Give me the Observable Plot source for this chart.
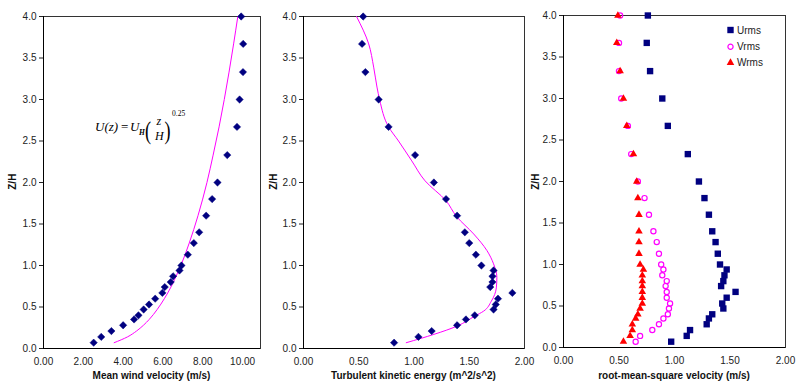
<!DOCTYPE html>
<html><head><meta charset="utf-8">
<script src="https://cdn.jsdelivr.net/npm/d3@7"></script>
<script src="https://cdn.jsdelivr.net/npm/@observablehq/plot@0.6"></script>
<style>
body{margin:0;background:#fff;}
#wrap{position:relative;width:800px;height:392px;overflow:hidden;font-family:"Liberation Sans",Arial,sans-serif;}
#wrap > svg{position:absolute;top:0;}
</style></head><body><div id="wrap"></div>
<script>
// z/H levels of the measurements
const zLevels = [0.07,0.14,0.21,0.28,0.35,0.40,0.47,0.53,0.60,0.67,0.74,0.80,0.87,0.94,1.00,1.13,1.27,1.40,1.60,1.80,2.00,2.33,2.67,3.00,3.33,3.67,4.00];
// Panel 1: mean wind velocity (m/s)
const meanWind = [2.52,2.90,3.41,4.00,4.55,4.77,5.03,5.30,5.61,5.97,6.09,6.39,6.51,6.83,6.93,7.25,7.55,7.82,8.17,8.47,8.74,9.23,9.72,9.85,10.02,10.03,9.93];
// Power-law curve
const lawZ = [0.07,0.14,0.21,0.28,0.35,0.47,0.60,0.74,0.87,1.00,1.27,1.60,2.00,2.33,2.67,3.00,3.33,3.67,4.00];
const lawU = [3.55,4.22,4.67,5.02,5.31,5.71,6.07,6.40,6.66,6.90,7.32,7.76,8.21,8.52,8.82,9.08,9.32,9.55,9.76];
// Panel 2: turbulent kinetic energy (m^2/s^2)
const tke = [0.82,1.04,1.16,1.39,1.47,1.55,1.72,1.74,1.76,1.89,1.69,1.71,1.71,1.72,1.61,1.56,1.50,1.46,1.39,1.29,1.18,1.01,0.77,0.68,0.56,0.53,0.54];
const tkeLineZ = [0.07,0.17,0.27,0.39,0.45,0.57,0.73,0.86,1.02,1.18,1.38,1.59,1.78,2.02,2.26,2.50,2.67,2.99,3.15,3.39,3.67,4.00];
const tkeLineK = [0.93,1.18,1.39,1.55,1.63,1.70,1.745,1.75,1.72,1.66,1.54,1.385,1.29,1.10,0.98,0.86,0.77,0.69,0.665,0.635,0.59,0.48];
// Panel 3: rms velocities (m/s)
const uRms = [0.97,1.11,1.14,1.29,1.31,1.34,1.44,1.43,1.47,1.55,1.42,1.44,1.45,1.47,1.41,1.39,1.37,1.34,1.31,1.27,1.22,1.12,0.94,0.89,0.78,0.75,0.76];
const vRms = [0.65,0.69,0.80,0.86,0.90,0.94,0.95,0.96,0.93,0.93,0.92,0.93,0.89,0.90,0.88,0.86,0.84,0.81,0.77,0.73,0.67,0.61,0.58,0.52,0.50,0.50,0.51];
const wRms = [0.54,0.60,0.62,0.62,0.65,0.67,0.69,0.71,0.71,0.71,0.71,0.71,0.71,0.72,0.69,0.68,0.68,0.68,0.68,0.67,0.66,0.63,0.57,0.54,0.51,0.48,0.49];
const seriesNames = ["Urms","Vrms","Wrms"];
const xTitles = ["Mean wind velocity (m/s)","Turbulent kinetic energy (m^2/s^2)","root-mean-square velocity (m/s)"];
const yTitle = "Z/H";
const xTicks1 = [0,2,4,6,8,10];
const xTicks23 = [0,0.5,1,1.5,2];
const yTicks = [0,0.5,1,1.5,2,2.5,3,3.5,4];

const NAVY = "#000080", MAG = "#ff00ff", RED = "#ff0000";
const wrap = document.getElementById("wrap");
const pts = (xs) => zLevels.map((z, i) => ({x: xs[i], z}));
const line = (zs, xs) => zs.map((z, i) => ({x: xs[i], z}));

function panel({left, marginLeft, marginRight, marginTop, marginBottom, xDomain, xTicks, marks}) {
  const svg = Plot.plot({
    width: 270, height: 392,
    marginLeft, marginRight, marginTop, marginBottom,
    style: {fontFamily: "'Liberation Sans', Arial, sans-serif", fontSize: "10px", color: "#222", background: "transparent"},
    x: {domain: xDomain, ticks: xTicks, tickFormat: ".2f", tickSize: 0, tickPadding: 9, label: null},
    y: {domain: [0, 4], ticks: yTicks, tickFormat: ".1f", tickSize: 4, tickPadding: 3, label: null},
    marks: [
      Plot.frame({stroke: "#333", strokeWidth: 1}),
      ...marks,
      Plot.ruleX([xDomain[0]], {stroke: "#000"}),
      Plot.ruleY([0], {stroke: "#000"})
    ]
  });
  svg.style.left = left + "px";
  wrap.append(svg);
}

panel({left: 0, marginLeft: 43, marginRight: 10, marginTop: 16, marginBottom: 44, xDomain: [0, 10.9], xTicks: xTicks1,
  marks: [
    Plot.line(line(lawZ, lawU), {x: "x", y: "z", stroke: MAG, strokeWidth: 1, curve: "monotone-y"}),
    Plot.dot(pts(meanWind), {x: "x", y: "z", symbol: "diamond2", r: 3.3, fill: NAVY, stroke: NAVY, strokeWidth: 0.5})
  ]});

panel({left: 270, marginLeft: 33, marginRight: 16, marginTop: 16, marginBottom: 44, xDomain: [0, 2], xTicks: xTicks23,
  marks: [
    Plot.line(line(tkeLineZ, tkeLineK), {x: "x", y: "z", stroke: MAG, strokeWidth: 1, curve: "monotone-y"}),
    Plot.dot(pts(tke), {x: "x", y: "z", symbol: "diamond2", r: 3.3, fill: NAVY, stroke: NAVY, strokeWidth: 0.5})
  ]});

panel({left: 530, marginLeft: 33, marginRight: 15, marginTop: 15, marginBottom: 45, xDomain: [0, 2], xTicks: xTicks23,
  marks: [
    Plot.dot(pts(uRms), {x: "x", y: "z", symbol: "square", r: 3.6, fill: NAVY}),
    Plot.dot(pts(vRms), {x: "x", y: "z", symbol: "circle", r: 2.6, fill: "none", stroke: MAG, strokeWidth: 1.2}),
    Plot.dot(pts(wRms), {x: "x", y: "z", symbol: "triangle", r: 2.8, fill: RED})
  ]});

// Overlay: titles, equation, legend
const ns = "http://www.w3.org/2000/svg";
const ov = document.createElementNS(ns, "svg");
ov.setAttribute("width", 800); ov.setAttribute("height", 392);
ov.style.left = "0px";
ov.style.fontFamily = "'Liberation Sans', Arial, sans-serif";
wrap.append(ov);
function txt(str, x, y, attrs = {}) {
  const t = document.createElementNS(ns, "text");
  t.textContent = str;
  t.setAttribute("x", x); t.setAttribute("y", y);
  for (const k in attrs) t.setAttribute(k, attrs[k]);
  ov.append(t);
  return t;
}
const xTitleCenters = [151.5, 413.5, 674];
xTitles.forEach((s, i) => txt(s, xTitleCenters[i], 379, {"text-anchor": "middle", "font-weight": "bold", "font-size": "10px", fill: "#111"}));
[12, 273, 535].forEach(cx => txt(yTitle, 0, 0, {"text-anchor": "middle", "dominant-baseline": "central", "font-weight": "bold", "font-size": "10px", fill: "#111", transform: `translate(${cx},181.7) rotate(-90)`}));

// Equation U(z) = U_H (z/H)^0.25
const serif = {"font-family": "'Liberation Serif', 'Times New Roman', serif", fill: "#000"};
txt("U(z)", 95, 131, {...serif, "font-style": "italic", "font-size": "13px"});
txt("=", 121, 131, {...serif, "font-size": "13px"});
txt("U", 130, 131, {...serif, "font-style": "italic", "font-size": "13px"});
txt("H", 139, 134.5, {...serif, "font-style": "italic", "font-size": "7.5px", "font-weight": "bold"});
txt("(", 0, 0, {...serif, "font-size": "26px", transform: "translate(145,139) scale(0.7,1)"});
txt("z", 156.5, 125, {...serif, "font-style": "italic", "font-size": "12px"});
txt("H", 155, 139.5, {...serif, "font-style": "italic", "font-size": "12px"});
txt(")", 0, 0, {...serif, "font-size": "26px", transform: "translate(164.5,139) scale(0.7,1)"});
txt("0.25", 172, 116, {...serif, "font-size": "7.5px"});

// Legend
const legSym = [d3.symbolSquare, d3.symbolCircle, d3.symbolTriangle];
const legStyle = [{fill: NAVY}, {fill: "none", stroke: MAG, "stroke-width": 1.2}, {fill: RED}];
const legSize = [Math.PI * 3.6 * 3.6, Math.PI * 2.6 * 2.6, Math.PI * 2.8 * 2.8];
[30, 46.7, 62.7].forEach((yy, i) => {
  const p = document.createElementNS(ns, "path");
  p.setAttribute("d", d3.symbol(legSym[i], legSize[i])());
  p.setAttribute("transform", `translate(730.5,${yy})`);
  for (const k in legStyle[i]) p.setAttribute(k, legStyle[i][k]);
  ov.append(p);
  txt(seriesNames[i], 737, yy, {"dominant-baseline": "central", "font-size": "10px", fill: "#222"});
});
</script></body></html>
